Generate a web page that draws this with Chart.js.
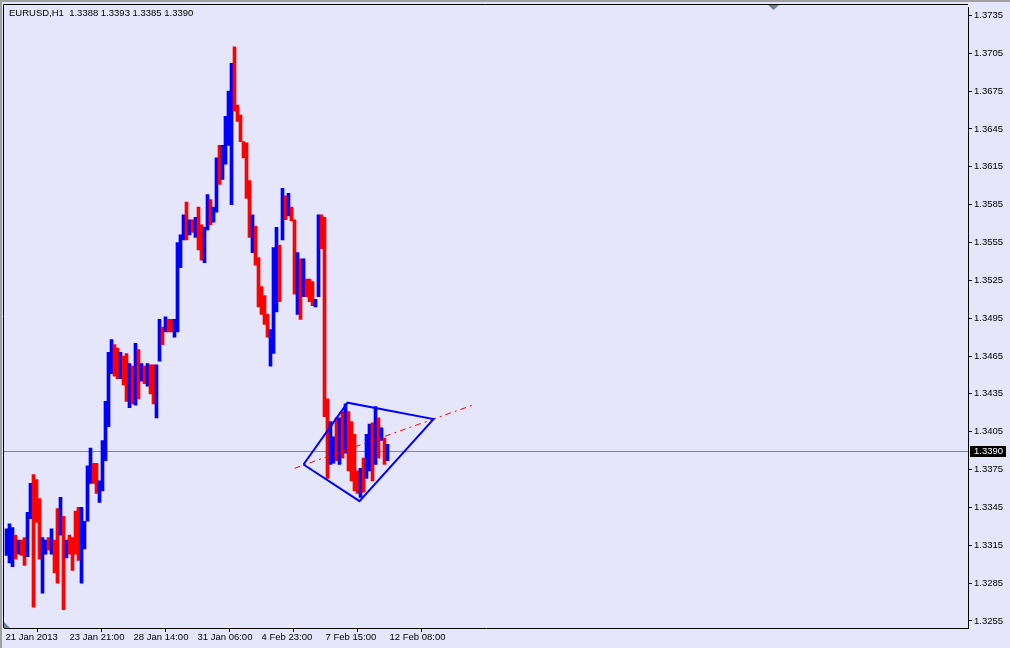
<!DOCTYPE html>
<html>
<head>
<meta charset="utf-8">
<title>EURUSD,H1</title>
<script src="https://cdn.jsdelivr.net/npm/chart.js@4.4.0/dist/chart.umd.min.js"></script>
<style>
html, body { margin: 0; padding: 0; background: #E6E6FA; }
canvas { display: block; }
</style>
</head>
<body>
<canvas id="priceChart" width="1010" height="648"></canvas>
<script>
// EURUSD H1, 21 Jan - 12 Feb 2013. one entry = 3 hourly bars (high / low)
var chartTitle = "EURUSD,H1  1.3388 1.3393 1.3385 1.3390";
var lastPrice = 1.3390;

var highs = [
    1.3328, 1.3332, 1.3329, 1.3323, 1.3319, 1.3319, 1.3321, 1.3341, 1.3364, 1.3371,
    1.3367, 1.3352, 1.3321, 1.3319, 1.3321, 1.3328, 1.3319, 1.3344, 1.3353, 1.3338,
    1.3319, 1.3323, 1.3321, 1.3342, 1.3345, 1.3345, 1.3334, 1.3378, 1.3392, 1.3380,
    1.3380, 1.3366, 1.3398, 1.3429, 1.3468, 1.3478, 1.3474, 1.3471, 1.3468, 1.3465,
    1.3467, 1.3459, 1.3457, 1.3475, 1.3470, 1.3459, 1.3457, 1.3459, 1.3458, 1.3458,
    1.3458, 1.3494, 1.3488, 1.3496, 1.3494, 1.3494, 1.3494, 1.3555, 1.3561, 1.3577,
    1.3587, 1.3573, 1.3573, 1.3575, 1.3583, 1.3569, 1.3567, 1.3593, 1.3589, 1.3583,
    1.3622, 1.3632, 1.3632, 1.3655, 1.3675, 1.3697, 1.3710, 1.3664, 1.3656, 1.3635,
    1.3634, 1.3604, 1.3577, 1.3568, 1.3543, 1.3520, 1.3513, 1.3498, 1.3486, 1.3551,
    1.3567, 1.3553, 1.3598, 1.3592, 1.3594, 1.3583, 1.3573, 1.3547, 1.3542, 1.3542,
    1.3526, 1.3526, 1.3524, 1.3510, 1.3577, 1.3577, 1.3575, 1.3431, 1.3413, 1.3401,
    1.3416, 1.3416, 1.3421, 1.3427, 1.3421, 1.3413, 1.3403, 1.3374, 1.3376, 1.3384,
    1.3403, 1.3411, 1.3412, 1.3425, 1.3416, 1.3408, 1.3400, 1.3395
];
var lows = [
    1.3307, 1.3301, 1.3298, 1.3304, 1.3308, 1.3307, 1.3299, 1.3306, 1.3336, 1.3266,
    1.3333, 1.3304, 1.3277, 1.3308, 1.3311, 1.3308, 1.3293, 1.3285, 1.3323, 1.3264,
    1.3305, 1.3308, 1.3295, 1.3308, 1.3303, 1.3285, 1.3312, 1.3334, 1.3364, 1.3364,
    1.3356, 1.3349, 1.3358, 1.3382, 1.3409, 1.3451, 1.3449, 1.3447, 1.3447, 1.3442,
    1.3429, 1.3424, 1.3427, 1.3426, 1.3431, 1.3445, 1.3443, 1.3441, 1.3435, 1.3427,
    1.3416, 1.3461, 1.3474, 1.3484, 1.3484, 1.3484, 1.3480, 1.3484, 1.3535, 1.3557,
    1.3557, 1.3561, 1.3563, 1.3559, 1.3549, 1.3541, 1.3539, 1.3565, 1.3569, 1.3571,
    1.3579, 1.3601, 1.3605, 1.3617, 1.3632, 1.3585, 1.3659, 1.3651, 1.3635, 1.3622,
    1.3590, 1.3559, 1.3547, 1.3537, 1.3504, 1.3498, 1.3490, 1.3480, 1.3457, 1.3467,
    1.3500, 1.3508, 1.3557, 1.3573, 1.3576, 1.3572, 1.3514, 1.3498, 1.3494, 1.3512,
    1.3512, 1.3508, 1.3505, 1.3504, 1.3512, 1.3550, 1.3417, 1.3368, 1.3379, 1.3380,
    1.3382, 1.3379, 1.3384, 1.3388, 1.3374, 1.3366, 1.3358, 1.3356, 1.3353, 1.3357,
    1.3368, 1.3374, 1.3366, 1.3379, 1.3384, 1.3398, 1.3379, 1.3382
];
// 1 = bull bar (blue), -1 = bear bar (red)
var dirs = [
     1,  1,  1, -1,  1, -1, -1,  1,  1, -1,
    -1, -1,  1,  1, -1,  1, -1, -1,  1, -1,
     1, -1, -1, -1, -1,  1,  1,  1,  1, -1,
    -1,  1,  1,  1,  1,  1, -1, -1,  1, -1,
    -1,  1, -1,  1, -1,  1, -1,  1, -1, -1,
     1,  1, -1,  1, -1, -1,  1,  1,  1,  1,
    -1,  1, -1,  1, -1, -1,  1,  1, -1,  1,
     1, -1,  1,  1,  1,  1, -1, -1, -1, -1,
    -1, -1,  1, -1, -1, -1, -1, -1,  1,  1,
     1, -1,  1, -1,  1, -1, -1,  1, -1,  1,
    -1, -1, -1,  1,  1, -1, -1, -1,  1,  1,
    -1,  1, -1,  1, -1, -1, -1, -1,  1, -1,
     1,  1, -1,  1, -1,  1, -1,  1
];

var xTickHours = [0, 64, 128, 192, 256, 320, 384];
var xTickLabels = ["21 Jan 2013", "23 Jan 21:00", "28 Jan 14:00", "31 Jan 06:00", "4 Feb 23:00", "7 Feb 15:00", "12 Feb 08:00"];
var yTicks = [1.3255, 1.3285, 1.3315, 1.3345, 1.3375, 1.3405, 1.3435, 1.3465, 1.3495,
              1.3525, 1.3555, 1.3585, 1.3615, 1.3645, 1.3675, 1.3705, 1.3735];

// drawn objects: triangle pattern and dash-dot trend line (hour, price)
var triangleHours = [298, 342, 428, 354, 298];
var trianglePrices = [1.3379, 1.3428, 1.3415, 1.3350, 1.3379];
var trendHours = [289, 467];
var trendPrices = [1.3376, 1.3426];

Chart.defaults.font.family = "'Liberation Sans', Arial, sans-serif";
Chart.defaults.font.size = 9.5;
Chart.defaults.color = '#000';

//背景, 边框, 标题, 当前价
var mtDecor = {
    id: 'mtDecor',
    beforeDraw: function(chart) {
        var ctx = chart.ctx;
        ctx.save();
        ctx.fillStyle = '#E6E6FA';
        ctx.fillRect(0, 0, chart.width, chart.height);
        ctx.fillStyle = '#A0A0A0';
        ctx.fillRect(0, 0, chart.width, 2);
        ctx.fillRect(0, 0, 2, chart.height);
        ctx.restore();
    },
    beforeDatasetsDraw: function(chart) {
        var ctx = chart.ctx, area = chart.chartArea;
        var y = Math.round(chart.scales.y.getPixelForValue(lastPrice)) + 0.5;
        ctx.save();
        ctx.strokeStyle = '#778899';
        ctx.lineWidth = 1;
        ctx.beginPath();
        ctx.moveTo(area.left, y);
        ctx.lineTo(area.right, y);
        ctx.stroke();
        ctx.restore();
    },
    afterDraw: function(chart) {
        var ctx = chart.ctx, area = chart.chartArea;
        ctx.save();
        // top / left frame
        ctx.strokeStyle = '#000';
        ctx.lineWidth = 1;
        ctx.beginPath();
        ctx.moveTo(3.5, area.bottom);
        ctx.lineTo(3.5, 4.5);
        ctx.lineTo(area.right, 4.5);
        ctx.stroke();
        // title
        ctx.fillStyle = '#000';
        ctx.font = "9.5px 'Liberation Sans', Arial, sans-serif";
        ctx.textBaseline = 'middle';
        ctx.textAlign = 'left';
        ctx.fillText(chartTitle, 9, 13);
        // price label
        var y = Math.round(chart.scales.y.getPixelForValue(lastPrice));
        ctx.fillStyle = '#000';
        ctx.fillRect(area.right + 2, y - 5, 36, 11);
        ctx.fillStyle = '#fff';
        ctx.fillText(lastPrice.toFixed(4), area.right + 6, y + 0.5);
        // chart shift marker
        ctx.fillStyle = '#708090';
        ctx.beginPath();
        ctx.moveTo(768, 5);
        ctx.lineTo(779, 5);
        ctx.lineTo(773.5, 10);
        ctx.closePath();
        ctx.fill();
        // corner marker
        ctx.beginPath();
        ctx.moveTo(area.left, area.bottom - 6);
        ctx.lineTo(area.left, area.bottom);
        ctx.lineTo(area.left + 6, area.bottom);
        ctx.closePath();
        ctx.fill();
        ctx.restore();
    }
};

var barData = highs.map(function(h, i) {
    return { x: i * 3 + 1, y: [lows[i], h] };
});
var barColors = dirs.map(function(d) {
    return d > 0 ? '#0000FF' : '#FF0000';
});
var triangleData = triangleHours.map(function(h, i) {
    return { x: h, y: trianglePrices[i] };
});
var trendData = trendHours.map(function(h, i) {
    return { x: h, y: trendPrices[i] };
});

var ctx = document.getElementById('priceChart');
var priceChart = new Chart(ctx, {
    type: 'bar',
    data: {
        datasets: [{
            label: 'EURUSD',
            data: barData,
            backgroundColor: barColors,
            borderWidth: 0,
            barThickness: 3,
            order: 3
        }, {
            type: 'line',
            label: 'triangle',
            data: triangleData,
            borderColor: '#0000FF',
            borderWidth: 2,
            pointRadius: 0,
            tension: 0,
            fill: false,
            order: 1
        }, {
            type: 'line',
            label: 'trend',
            data: trendData,
            borderColor: '#FF0000',
            borderWidth: 1,
            borderDash: [6, 4, 2, 4],
            pointRadius: 0,
            tension: 0,
            fill: false,
            order: 2
        }]
    },
    options: {
        responsive: false,
        animation: false,
        events: [],
        layout: { padding: { left: 4, top: 4, right: 0, bottom: 0 } },
        plugins: {
            legend: { display: false },
            tooltip: { enabled: false }
        },
        scales: {
            x: {
                type: 'linear',
                position: 'bottom',
                min: -1.5,
                max: 962.5,
                offset: false,
                grid: { drawOnChartArea: false, drawTicks: true, tickLength: 4, color: '#000' },
                border: { display: true, color: '#000', width: 1 },
                ticks: {
                    autoSkip: false,
                    maxRotation: 0,
                    align: 'start',
                    padding: 0,
                    callback: function(v) {
                        var i = xTickHours.indexOf(v);
                        return i >= 0 ? xTickLabels[i] : '';
                    }
                },
                afterBuildTicks: function(scale) {
                    scale.ticks = xTickHours.map(function(h) { return { value: h }; });
                },
                afterFit: function(scale) { scale.height = 20; }
            },
            y: {
                type: 'linear',
                position: 'right',
                min: 1.32494,
                max: 1.37411,
                grid: { drawOnChartArea: false, drawTicks: true, tickLength: 4, color: '#000' },
                border: { display: true, color: '#000', width: 1 },
                ticks: {
                    padding: 2,
                    callback: function(v) { return v.toFixed(4); }
                },
                afterBuildTicks: function(scale) {
                    scale.ticks = yTicks.map(function(v) { return { value: v }; });
                },
                afterFit: function(scale) { scale.width = 42; }
            }
        }
    },
    plugins: [mtDecor]
});
</script>
</body>
</html>
